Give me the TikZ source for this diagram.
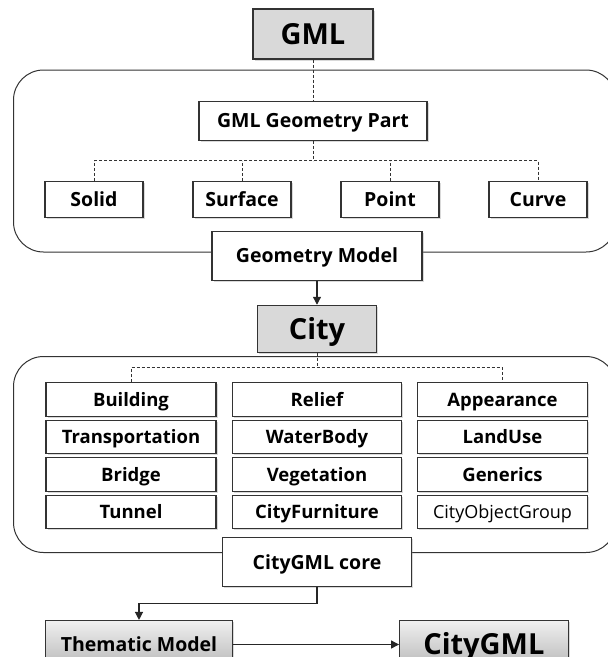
\documentclass[tikz,border=0pt]{standalone}
\usepackage{fontspec}
\setmainfont{Open Sans}
\usetikzlibrary{positioning,shadows,arrows.meta}

\begin{document}
\begin{tikzpicture}[x=1pt,y=1pt,
	box/.style={draw=black!80,line width=1.1pt,fill=white,inner sep=0pt,text height=14pt,text depth=0pt,font=\fontsize{19.5}{22}\selectfont\bfseries,drop shadow={shadow xshift=1.5pt,shadow yshift=-1.5pt,opacity=.3}},
	headbox/.style={box,fill=black!15,text height=20.7pt,font=\fontsize{29}{34}\selectfont\bfseries},
	shadedbox/.style={box,top color=black!6,bottom color=black!28},
	cell/.style={box,minimum width=170pt,minimum height=33.4pt,text height=13.2pt,font=\fontsize{18.5}{22}\selectfont\bfseries},
	group/.style={draw=black!80,line width=1pt,rounded corners=30pt},
	link/.style={draw=black!80,line width=1pt,dash pattern=on 3pt off 2pt},
	flow/.style={draw=black!85,line width=1.2pt,-{Triangle[length=8pt,width=8pt]}}]
	\useasboundingbox (0,0) rectangle (608,-657);
	
	% the two groups
	\draw[group] (13.5,-70) rectangle (616,-252);
	\draw[group] (13.5,-356.5) rectangle (616,-552.5);
	
	% geometry part
	\node[headbox,minimum width=120pt,minimum height=50pt] (gml) at (313,-34) {GML};
	\node[box,minimum width=228pt,minimum height=39pt,below=41pt of gml] (gpart) {GML Geometry Part};
	
	\node[box,minimum width=98pt,minimum height=36pt,below=40pt of gpart,shift={(-219,0)}] (solid) {Solid};
	\node[box,minimum width=98pt,minimum height=36pt,below=40pt of gpart,shift={(-71,0)}] (surface) {Surface};
	\node[box,minimum width=98pt,minimum height=36pt,below=40pt of gpart,shift={(77,0)}] (point) {Point};
	\node[box,minimum width=98pt,minimum height=36pt,below=40pt of gpart,shift={(225,0)}] (curve) {Curve};
	
	\node[box,minimum width=210pt,minimum height=49pt,below=90pt of gpart,shift={(4,0)}] (geom) {Geometry Model};
	
	% city part
	\node[headbox,minimum width=119pt,minimum height=47.5pt,below=24pt of geom] (city) {City};
	
	\node[cell,below=29pt of city,shift={(-186,0)}] (building) {Building};
	\node[cell,below=3pt of building] (transport) {Transportation};
	\node[cell,below=3pt of transport] (bridge) {Bridge};
	\node[cell,below=3pt of bridge] (tunnel) {Tunnel};
	
	\node[cell,minimum width=169.5pt,below=29pt of city] (relief) {Relief};
	\node[cell,minimum width=169.5pt,below=3pt of relief] (water) {WaterBody};
	\node[cell,minimum width=169.5pt,below=3pt of water] (vegetation) {Vegetation};
	\node[cell,minimum width=169.5pt,below=3pt of vegetation] (furniture) {CityFurniture};
	
	\node[cell,below=29pt of city,shift={(185.5,0)}] (appearance) {Appearance};
	\node[cell,below=3pt of appearance] (landuse) {LandUse};
	\node[cell,below=3pt of landuse] (generics) {Generics};
	\node[cell,below=3pt of generics,text height=12.9pt,font=\fontsize{18}{22}\selectfont] (group) {CityObjectGroup};
	
	\node[box,minimum width=189pt,minimum height=48.5pt,below=8pt of furniture] (core) {CityGML core};
	
	% result
	\node[shadedbox,minimum width=187pt,minimum height=48pt,below=33pt of core,shift={(-178,0)}] (thematic) {Thematic Model};
	\node[shadedbox,minimum width=168.5pt,minimum height=48pt,right=166pt of thematic,text height=20.7pt,font=\fontsize{29}{34}\selectfont\bfseries] (citygml) {CityGML};
	
	\draw[link] (gml.south)--(gpart.north);
	\draw[link] (gpart.south)--++(0,-20);
	\draw[link] (solid.north)--++(0,20)-|(curve.north);
	\draw[link] (surface.north)--++(0,20);
	\draw[link] (point.north)--++(0,20);
	
	\draw[link] (city.south)--++(0,-14.5);
	\draw[link] (building.north)--++(0,14.5)-|(appearance.north);
	
	\draw[flow] (geom.south)--(city.north);
	\draw[flow] (core.south)--++(0,-16.5)-|(thematic.north);
	\draw[flow] (thematic.east)--(citygml.west);
\end{tikzpicture}
\end{document}
